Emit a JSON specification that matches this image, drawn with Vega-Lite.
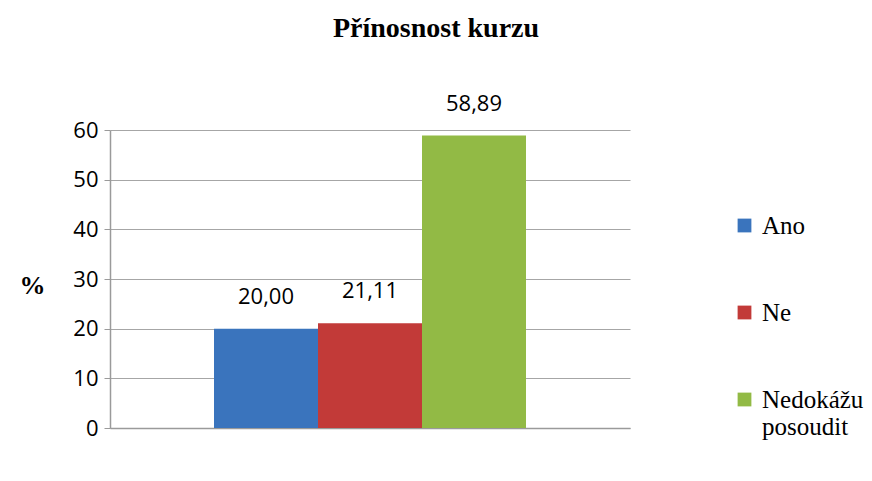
{
  "$schema": "https://vega.github.io/schema/vega-lite/v6.json",
  "autosize": "none",
  "width": 520,
  "height": 298,
  "padding": {"left": 110, "top": 130, "right": 242, "bottom": 53},
  "background": "white",
  "title": {
    "text": "Přínosnost kurzu",
    "font": "Liberation Serif",
    "fontSize": 28,
    "fontWeight": "bold",
    "color": "#000000",
    "anchor": "middle",
    "dx": 66,
    "offset": 50
  },
  "data": {
    "values": [
      {"kategorie": "Ano", "procenta": 20.00, "popisek": "20,00"},
      {"kategorie": "Ne", "procenta": 21.11, "popisek": "21,11"},
      {"kategorie": "Nedokážu posoudit", "procenta": 58.89, "popisek": "58,89"}
    ]
  },
  "config": {
    "view": {"stroke": null}
  },
  "encoding": {
    "x": {
      "field": "kategorie",
      "type": "nominal",
      "sort": null,
      "scale": {"paddingInner": 0, "paddingOuter": 1.15},
      "axis": {"labels": false, "ticks": false, "title": null, "domainColor": "#9a9a9a", "domainWidth": 1.5}
    },
    "y": {
      "field": "procenta",
      "type": "quantitative",
      "scale": {"domain": [0, 60]},
      "axis": {
        "values": [0, 10, 20, 30, 40, 50, 60],
        "title": "%",
        "titleAngle": 0,
        "titleFont": "Liberation Serif",
        "titleFontSize": 26,
        "titleFontWeight": "bold",
        "titleColor": "#000000",
        "titleX": -78,
        "titleY": 155,
        "titleAlign": "center",
        "titleBaseline": "middle",
        "labelFont": "Open Sans",
        "labelFontSize": 22,
        "labelColor": "#000000",
        "labelPadding": 6,
        "tickSize": 6,
        "tickColor": "#9a9a9a",
        "domainColor": "#9a9a9a",
        "domainWidth": 1.5,
        "gridColor": "#a6a6a6",
        "gridWidth": 1.2
      }
    }
  },
  "layer": [
    {
      "mark": {"type": "bar", "stroke": null},
      "encoding": {
        "color": {
          "field": "kategorie",
          "type": "nominal",
          "sort": null,
          "scale": {"range": ["#3a74bd", "#c23a38", "#92ba45"]},
          "legend": {
            "title": null,
            "orient": "none",
            "legendX": 622,
            "legendY": 83,
            "symbolType": "square",
            "symbolSize": 190,
            "symbolStrokeWidth": 0,
            "labelFont": "Liberation Serif",
            "labelFontSize": 25,
            "labelColor": "#000000",
            "labelLimit": 200,
            "labelOffset": 5,
            "rowPadding": 61,
            "labelExpr": "split(datum.label, ' ')"
          }
        }
      }
    },
    {
      "mark": {"type": "text", "baseline": "bottom", "dy": -20, "font": "Open Sans", "fontSize": 22, "color": "#000000"},
      "encoding": {"text": {"field": "popisek"}}
    }
  ]
}
